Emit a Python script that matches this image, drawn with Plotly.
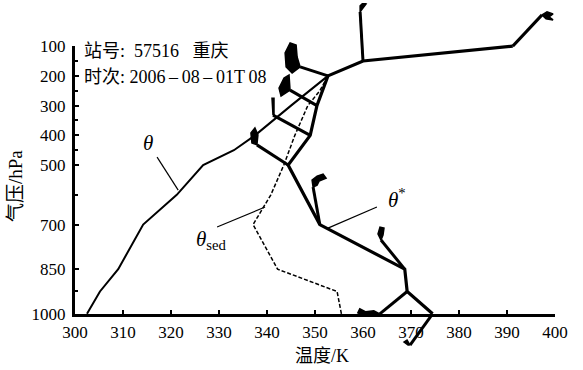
import plotly.graph_objects as go

# ---------------- data ----------------
# theta (potential temperature), thin solid line
theta_p = [1000, 925, 850, 700, 600, 500, 450, 400, 300, 250, 200]
theta_k = [302.5, 305.2, 309.0, 314.2, 321.2, 326.7, 333.1, 337.5, 345.0, 348.9, 352.7]

# theta_sed, dashed line
sed_p = [1000, 925, 850, 700, 600, 500, 400, 300, 250, 200]
sed_k = [355.5, 354.6, 342.2, 337.1, 340.8, 343.5, 345.8, 348.5, 351.0, 352.7]

# theta*, thick solid line
star_p = [1000, 925, 850, 700, 500, 400, 300, 200, 150, 100]
star_k = [374.5, 369.2, 368.7, 351.0, 344.4, 349.0, 350.4, 352.7, 360.0, 391.2]

# wind-barb shaft tips (bases are the theta* points at the same levels)
tip_k = [369.8, 363.5, 363.75, 349.6, 337.9, 341.25, 344.8, 346.9, 359.4, 397.3]
tip_p = [1105, 1000, 752, 574, 432, 332, 248, 170, -15, -5]

x_ticks = list(range(300, 401, 10))
y_ticks = [100, 200, 300, 400, 500, 700, 850, 1000]
y_minor = [150, 250, 350, 450, 600, 925]

# ---------------- layout geometry ----------------
L, R, T, B = 75, 28, 3, 22
W, H = 583, 370
P_TOP, P_BOT = -45, 1115
PW, PH = W - L - R, H - T - B
KX = PW / 100.0                  # px per K
PY = PH / (P_BOT - P_TOP)        # px per hPa

# flag glyph outlines in pixel offsets from tip (dx right, dy up)
flag_shapes = [
    [(0, 0), (-3, 5), (-6, 3), (-2, 0)],
    [(0, 0), (-6, 3), (-14, 2), (-20, 5), (-22, 1), (-15, -2), (-6, -2)],
    [(0, 0), (-3, 6), (-1, 13), (3, 12), (2, 5)],
    [(0, 0), (-1, 7), (4, 11), (10, 13), (13, 9), (6, 6), (4, 2)],
    [(0, 0), (-5, 2), (-6, 12), (-2, 17), (1, 10)],
    [(0, 0), (-1, 17), (1, 17), (1, 0)],
    [(0, 0), (-9, -6), (-11, 2), (-6, 12), (-1, 15), (0, 6)],
    [(0, 0), (-8, -6), (-14, 0), (-15, 14), (-10, 24), (-4, 22), (-3, 10)],
    [(0, 0), (0, 6), (3, 9), (6, 8), (3, 4)],
    [(0, 0), (5, 3), (11, 1), (7, -2), (11, -5), (4, -4)],
]

fig = go.Figure()

# dummy trace so the tick axis pair exists
fig.add_trace(go.Scatter(x=[None], y=[None], xaxis="x", yaxis="y",
                         showlegend=False, hoverinfo="skip"))

fig.add_trace(go.Scatter(x=theta_k, y=theta_p, xaxis="x", yaxis="y2", mode="lines",
                         line=dict(color="black", width=2), showlegend=False))
fig.add_trace(go.Scatter(x=sed_k, y=sed_p, xaxis="x", yaxis="y2", mode="lines",
                         line=dict(color="black", width=1.5, dash="4px,2px"), showlegend=False))
fig.add_trace(go.Scatter(x=star_k, y=star_p, xaxis="x", yaxis="y2", mode="lines",
                         line=dict(color="black", width=3.2), showlegend=False))

# barb shafts
sx, sy = [], []
for bk, bp, tk, tp in zip(star_k, star_p, tip_k, tip_p):
    sx += [bk, tk, None]
    sy += [bp, tp, None]
fig.add_trace(go.Scatter(x=sx, y=sy, xaxis="x", yaxis="y2", mode="lines",
                         line=dict(color="black", width=3), showlegend=False))

# barb flags
fx, fy = [], []
for tk, tp, shp in zip(tip_k, tip_p, flag_shapes):
    for dx, dy in shp + [shp[0]]:
        fx.append(tk + dx / KX)
        fy.append(tp - dy / PY)
    fx.append(None)
    fy.append(None)
fig.add_trace(go.Scatter(x=fx, y=fy, xaxis="x", yaxis="y2", mode="lines",
                         fill="toself", fillcolor="black",
                         line=dict(color="black", width=1.5), showlegend=False))

# label leader lines
leaders = [((317.1, 473), (321.5, 584)),
           ((329.6, 708), (339.6, 641)),
           ((352.7, 712), (362.9, 641))]
lx, ly = [], []
for (a, b) in leaders:
    lx += [a[0], b[0], None]
    ly += [a[1], b[1], None]
fig.add_trace(go.Scatter(x=lx, y=ly, xaxis="x", yaxis="y2", mode="lines",
                         line=dict(color="black", width=1.2), showlegend=False))

serif = "Liberation Serif, Times New Roman, serif"
cjk = "Liberation Serif, Noto Sans CJK SC, serif"

def px(x):
    return (x - L) / PW

def py(y):
    return (H - B - y) / PH

NB = "\u00a0"
TH = "\u2009"
ann = [
    dict(text="<i>θ</i>", x=315.2, y=426, xref="x", yref="y2", font=dict(size=21)),
    dict(text="<i>θ</i><sub>sed</sub>", x=328.5, y=752, xref="x", yref="y2", font=dict(size=21)),
    dict(text="<i>θ</i><sup>*</sup>", x=367.0, y=611, xref="x", yref="y2", font=dict(size=21)),
    dict(text="站号:" + NB * 2 + "57516" + NB * 3 + "重庆", x=px(82), y=py(51),
         xref="paper", yref="paper", xanchor="left", font=dict(size=18, family=cjk)),
    dict(text="时次:" + NB + "2006" + TH + "–" + TH + "08" + TH + "–" + TH + "01T" + TH + "08",
         x=px(82), y=py(77), xref="paper", yref="paper", xanchor="left",
         font=dict(size=18, family=cjk)),
    dict(text="温度/K", x=px(322), y=py(356), xref="paper", yref="paper",
         font=dict(size=18, family=cjk)),
    dict(text="气压/hPa", x=px(15), y=py(186), xref="paper", yref="paper", textangle=-90,
         font=dict(size=19, family=cjk)),
]
for a in ann:
    a.setdefault("showarrow", False)
    a.setdefault("yanchor", "middle")
    a.setdefault("xanchor", "center")
    a["font"].setdefault("family", serif)
    a["font"]["color"] = "black"

dom = [(P_BOT - 1000) / (P_BOT - P_TOP), (P_BOT - 100) / (P_BOT - P_TOP)]

fig.update_layout(
    template="none",
    width=W, height=H,
    margin=dict(l=L, r=R, t=T, b=B, pad=0),
    paper_bgcolor="white", plot_bgcolor="rgba(0,0,0,0)",
    showlegend=False,
    annotations=ann,
    xaxis=dict(range=[300, 400], domain=[0, 1], anchor="y", automargin=False,
               showline=True, linewidth=3, linecolor="black",
               ticks="inside", ticklen=4, tickwidth=2, tickcolor="black",
               tickvals=x_ticks, ticktext=[str(v) for v in x_ticks],
               tickfont=dict(family=serif, size=17, color="black"),
               ticklabelstandoff=1,
               showgrid=False, zeroline=False, fixedrange=True),
    yaxis=dict(range=[1000, 100], domain=dom, anchor="x", automargin=False,
               showline=True, linewidth=3, linecolor="black",
               ticks="inside", ticklen=4, tickwidth=2, tickcolor="black",
               tickvals=y_ticks, ticktext=[str(v) for v in y_ticks],
               tickfont=dict(family=serif, size=17, color="black"),
               ticklabelstandoff=3,
               minor=dict(tickvals=y_minor, ticks="inside", ticklen=3, tickwidth=2,
                          tickcolor="black", showgrid=False),
               showgrid=False, zeroline=False, fixedrange=True),
    yaxis2=dict(range=[P_BOT, P_TOP], domain=[0, 1], anchor="x", visible=False,
                automargin=False, showgrid=False, zeroline=False, fixedrange=True),
)

fig.write_html("out.html")
